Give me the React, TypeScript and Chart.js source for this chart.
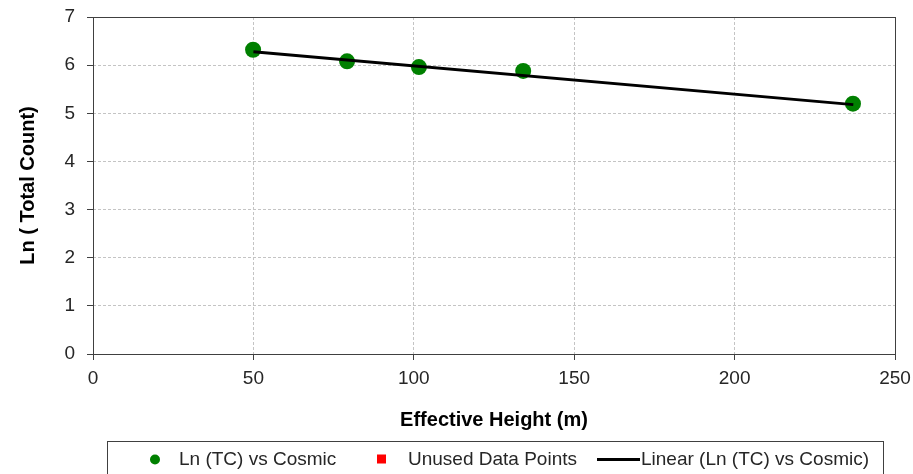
import React, { useEffect, useRef } from "react";
import { Chart, registerables } from "chart.js";

Chart.register(...registerables);

// Data
const heights = [49.9, 79.2, 101.6, 134.1, 236.9];
const lnCounts = [6.32, 6.08, 5.96, 5.88, 5.2];
const unusedHeights: number[] = [];
const unusedCounts: number[] = [];
const trendHeights = [50, 237];
const trendCounts = [6.28, 5.18];
const legendLabels = ["Ln (TC) vs Cosmic", "Unused Data Points", "Linear (Ln (TC) vs Cosmic)"];
const xTitle = "Effective Height (m)";
const yTitle = "Ln ( Total Count)";

const FONT = "'Liberation Sans', Arial, sans-serif";
const TEXT = "#262626";
const AXIS = "#404040";

const plotBorder = {
  id: "plotBorder",
  beforeDatasetsDraw(chart: any) {
    const { ctx, chartArea } = chart;
    const l = Math.round(chartArea.left) + 0.5;
    const t = Math.round(chartArea.top) + 0.5;
    const r = Math.round(chartArea.right) + 0.5;
    const b = Math.round(chartArea.bottom) + 0.5;
    ctx.save();
    ctx.strokeStyle = AXIS;
    ctx.lineWidth = 1;
    ctx.strokeRect(l, t, r - l, b - t);
    ctx.restore();
  },
};

const boxLegend = {
  id: "boxLegend",
  afterDraw(chart: any) {
    const { ctx } = chart;
    const top = 441.5;
    const left = 107.5;
    const width = 776;
    const cy = 459.5;
    ctx.save();
    ctx.strokeStyle = AXIS;
    ctx.lineWidth = 1;
    ctx.strokeRect(left, top, width, 60);
    ctx.font = `19px ${FONT}`;
    ctx.fillStyle = TEXT;
    ctx.textBaseline = "middle";
    ctx.textAlign = "left";
    const ds = chart.data.datasets;
    // item 1: circle
    const d0 = ds.find((d: any) => d.label === legendLabels[0]);
    ctx.fillStyle = d0.backgroundColor;
    ctx.beginPath();
    ctx.arc(155, cy, 5, 0, Math.PI * 2);
    ctx.fill();
    ctx.fillStyle = TEXT;
    ctx.fillText(legendLabels[0], 179, cy);
    // item 2: square
    const d1 = ds.find((d: any) => d.label === legendLabels[1]);
    ctx.fillStyle = d1.backgroundColor;
    ctx.fillRect(377, cy - 5, 9, 9);
    ctx.fillStyle = TEXT;
    ctx.fillText(legendLabels[1], 408, cy);
    // item 3: line
    const d2 = ds.find((d: any) => d.label === legendLabels[2]);
    ctx.strokeStyle = d2.borderColor;
    ctx.lineWidth = 3;
    ctx.beginPath();
    ctx.moveTo(597, cy);
    ctx.lineTo(640, cy);
    ctx.stroke();
    ctx.fillStyle = TEXT;
    ctx.fillText(legendLabels[2], 641, cy);
    ctx.restore();
  },
};

export default function App() {
  const ref = useRef<HTMLCanvasElement>(null);

  useEffect(() => {
    if (!ref.current) return;
    const chart = new Chart(ref.current, {
      type: "scatter",
      data: {
        datasets: [
          {
            label: legendLabels[0],
            data: heights.map((x, i) => ({ x, y: lnCounts[i] })),
            backgroundColor: "#008000",
            borderColor: "#008000",
            pointRadius: 8,
            pointBorderWidth: 0,
            order: 1,
          },
          {
            label: legendLabels[1],
            data: unusedHeights.map((x, i) => ({ x, y: unusedCounts[i] })),
            backgroundColor: "#ff0000",
            borderColor: "#ff0000",
            pointStyle: "rect",
            pointRadius: 5,
            order: 2,
          },
          {
            type: "line",
            label: legendLabels[2],
            data: trendHeights.map((x, i) => ({ x, y: trendCounts[i] })),
            borderColor: "#000000",
            backgroundColor: "#000000",
            borderWidth: 3,
            pointRadius: 0,
            fill: false,
            order: 0,
          } as any,
        ],
      },
      options: {
        animation: false,
        responsive: true,
        maintainAspectRatio: false,
        layout: { padding: { top: 17, right: 18, bottom: 32, left: 0 } },
        plugins: {
          legend: { display: false },
          tooltip: { enabled: false },
        },
        scales: {
          x: {
            type: "linear",
            min: 0,
            max: 250,
            ticks: {
              stepSize: 50,
              padding: 7,
              color: TEXT,
              font: { family: FONT, size: 19 },
              maxRotation: 0,
            },
            grid: {
              color: "#c4c4c4",
              tickColor: AXIS,
              tickLength: 6,
              tickBorderDash: [],
            } as any,
            border: { display: false, dash: [3, 2] },
            title: {
              display: true,
              text: xTitle,
              color: "#000",
              font: { family: FONT, size: 20, weight: "bold" },
              padding: { top: 0, bottom: 10 },
            },
            afterFit(scale: any) {
              scale.height = 88;
              scale.paddingLeft = 0;
              scale.paddingRight = 0;
            },
          },
          y: {
            type: "linear",
            min: 0,
            max: 7,
            ticks: {
              stepSize: 1,
              padding: 12,
              color: TEXT,
              font: { family: FONT, size: 19 },
            },
            grid: {
              color: "#c4c4c4",
              tickColor: AXIS,
              tickLength: 6,
              tickBorderDash: [],
            } as any,
            border: { display: false, dash: [3, 2] },
            title: {
              display: true,
              text: yTitle,
              color: "#000",
              font: { family: FONT, size: 20, weight: "bold" },
              padding: { top: 16, bottom: 0 },
            },
            afterFit(scale: any) {
              scale.width = 93;
              scale.paddingTop = 0;
              scale.paddingBottom = 0;
            },
          },
        },
      },
      plugins: [plotBorder, boxLegend],
    });
    return () => chart.destroy();
  }, []);

  return (
    <div style={{ position: "absolute", left: 0, top: 0, width: 913, height: 474, background: "#fff" }}>
      <canvas ref={ref} />
    </div>
  );
}
